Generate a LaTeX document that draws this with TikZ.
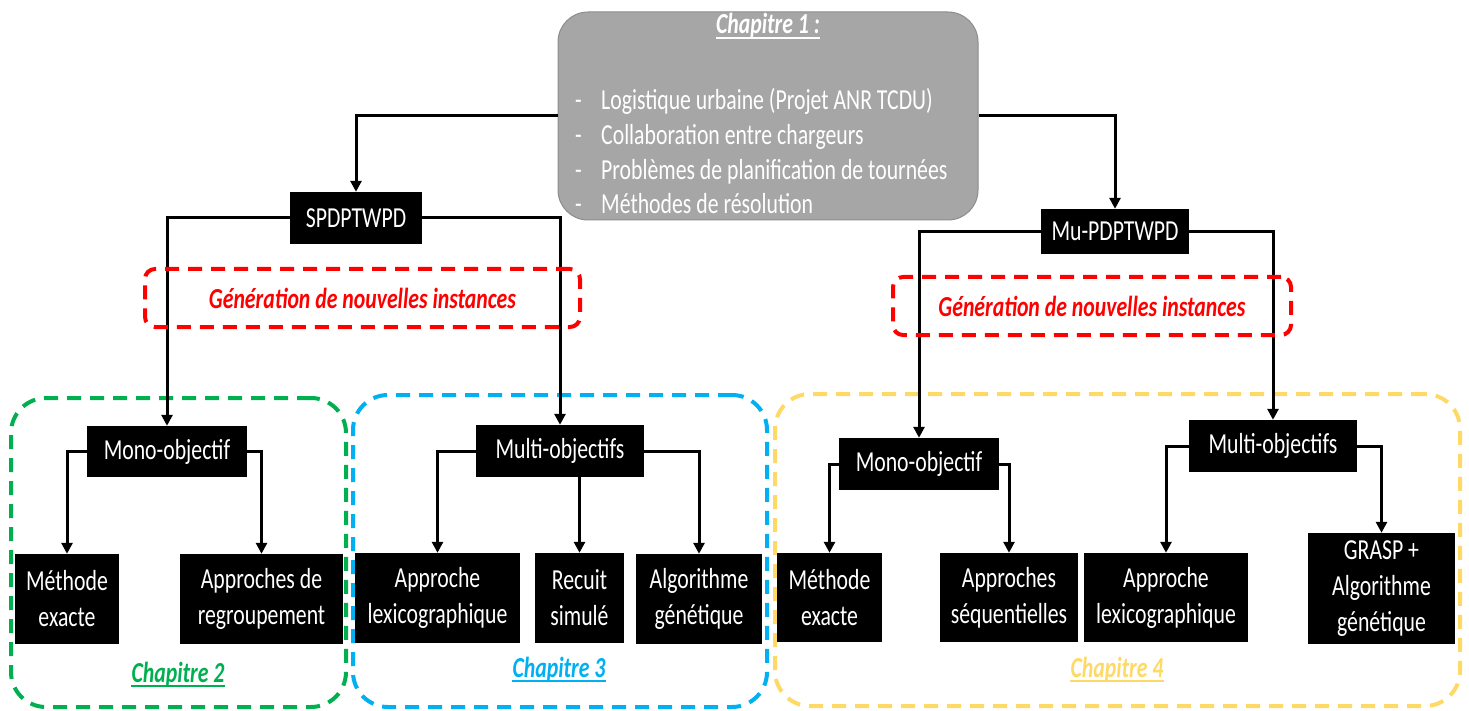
\documentclass[tikz,border=0pt]{standalone}
\usepackage{fontspec}
\setmainfont{Carlito}[FakeStretch=0.75]
\usetikzlibrary{arrows.meta}
\definecolor{greyfill}{RGB}{166,166,166}
\definecolor{greyline}{RGB}{140,140,140}
\definecolor{cgreen}{RGB}{0,176,80}
\definecolor{cblue}{RGB}{0,176,240}
\definecolor{cyellow}{RGB}{255,217,102}
\definecolor{cred}{RGB}{255,0,0}
\newcommand{\diagfont}{\fontsize{29}{36}\selectfont}
\begin{document}
\begin{tikzpicture}[x=1pt,y=-1pt,
  blk/.style={fill=black, text=white, inner sep=0pt, align=center, font=\diagfont},
  conn/.style={line width=3pt, -{Triangle[length=11pt,width=11pt]}},
  chapbox/.style={line width=4pt, dash pattern=on 14pt off 9pt, rounded corners=35pt, inner sep=0pt},
  redbox/.style={draw=cred, line width=4pt, dash pattern=on 14pt off 9pt, rounded corners=10pt,
                 text=cred, font=\diagfont\bfseries\itshape, inner sep=0pt},
  chaptxt/.style={font=\diagfont\bfseries\itshape, anchor=base, inner sep=0pt},
  ul/.style={line width=1.6pt},
  bul/.style={text=white, font=\diagfont, anchor=base west, inner sep=0pt}
]
\useasboundingbox (0,0) rectangle (1469,711);

% chapter frames
\node[chapbox, draw=cgreen, minimum width=335, minimum height=309] (c2) at (178.5,552.5) {};
\node[chapbox, draw=cblue, minimum width=414, minimum height=312] (c3) at (560,551) {};
\node[chapbox, draw=cyellow, minimum width=685, minimum height=312] (c4) at (1117.5,550) {};
\node[chaptxt, text=cgreen] (c2t) at (178,682) {Chapitre 2};
\node[chaptxt, text=cblue] (c3t) at (559,677) {Chapitre 3};
\node[chaptxt, text=cyellow] (c4t) at (1117,677) {Chapitre 4};
\draw[ul, cgreen] ([yshift=-4pt]c2t.base west) -- ([yshift=-4pt]c2t.base east);
\draw[ul, cblue] ([yshift=-4pt]c3t.base west) -- ([yshift=-4pt]c3t.base east);
\draw[ul, cyellow] ([yshift=-4pt]c4t.base west) -- ([yshift=-4pt]c4t.base east);

% chapter 1 box
\node[fill=greyfill, draw=greyline, line width=1pt, rounded corners=30pt,
      minimum width=420, minimum height=208] (g) at (768,116) {};
\node[text=white, font=\diagfont\bfseries\itshape, anchor=base, inner sep=0pt] (g0) at (768,34) {Chapitre 1 :};
\draw[ul, white] ([yshift=-4pt]g0.base west) -- ([yshift=-4pt]g0.base east);
\node[bul] (d1) at (575,110) {-};
\node[bul] (d2) at (575,145) {-};
\node[bul] (d3) at (575,180) {-};
\node[bul] (d4) at (575,214) {-};
\node[bul] (g1) at (601,110) {Logistique urbaine (Projet ANR TCDU)};
\node[bul] (g2) at (601,145) {Collaboration entre chargeurs};
\node[bul] (g3) at (601,180) {Problèmes de planification de tournées};
\node[bul] (g4) at (601,214) {Méthodes de résolution};

% problem nodes
\node[blk, minimum width=132, minimum height=52] (sp) at (356,218) {SPDPTWPD};
\node[blk, minimum width=148, minimum height=45] (mu) at (1115,231.5) {Mu-PDPTWPD};

% chapter 2
\node[blk, minimum width=160, minimum height=51] (mo1) at (167,451.5) {Mono-objectif};
\node[blk, minimum width=104, minimum height=90] (me1) at (67,599) {Méthode\\exacte};
\node[blk, minimum width=163, minimum height=90] (ar) at (261.5,599) {Approches de\\regroupement};

% chapter 3
\node[blk, minimum width=168, minimum height=52] (mu1) at (560,451) {Multi-objectifs};
\node[blk, minimum width=165, minimum height=90] (lx1) at (437.5,598) {Approche\\lexicographique};
\node[blk, minimum width=89, minimum height=90] (rs) at (579.5,598) {Recuit\\simulé};
\node[blk, minimum width=126, minimum height=90] (al) at (699,599) {Algorithme\\génétique};

% chapter 4
\node[blk, minimum width=160, minimum height=52] (mo2) at (919,464) {Mono-objectif};
\node[blk, minimum width=105, minimum height=89] (me2) at (829.5,597.5) {Méthode\\exacte};
\node[blk, minimum width=138, minimum height=89] (as) at (1009,597.5) {Approches\\séquentielles};
\node[blk, minimum width=168, minimum height=52] (mu2) at (1273,446) {Multi-objectifs};
\node[blk, minimum width=164, minimum height=89] (lx2) at (1166,597.5) {Approche\\lexicographique};
\node[blk, minimum width=147, minimum height=111] (gr) at (1381.5,588.5) {GRASP +\\Algorithme\\génétique};

% connectors
\draw[conn] (g.west) -| (sp.north);
\draw[conn] (g.east) -| (mu.north);
\draw[conn] (sp.west) -| (mo1.north);
\draw[conn] (sp.east) -| (mu1.north);
\draw[conn] (mu.west) -| (mo2.north);
\draw[conn] (mu.east) -| (mu2.north);
\draw[conn] (mo1.west) -| (me1.north);
\draw[conn] (mo1.east) -| (ar.north);
\draw[conn] (mu1.west) -| (lx1.north);
\draw[conn] (mu1.south -| rs.north) -- (rs.north);
\draw[conn] (mu1.east) -| (al.north);
\draw[conn] (mo2.west) -| (me2.north);
\draw[conn] (mo2.east) -| (as.north);
\draw[conn] (mu2.west) -| (lx2.north);
\draw[conn] (mu2.east) -| (gr.north);

% instance generation frames
\node[redbox, minimum width=435, minimum height=58] (r1) at (362.5,298) {Génération de nouvelles instances};
\node[redbox, minimum width=398, minimum height=58] (r2) at (1092,306) {Génération de nouvelles instances};
\end{tikzpicture}
\end{document}
